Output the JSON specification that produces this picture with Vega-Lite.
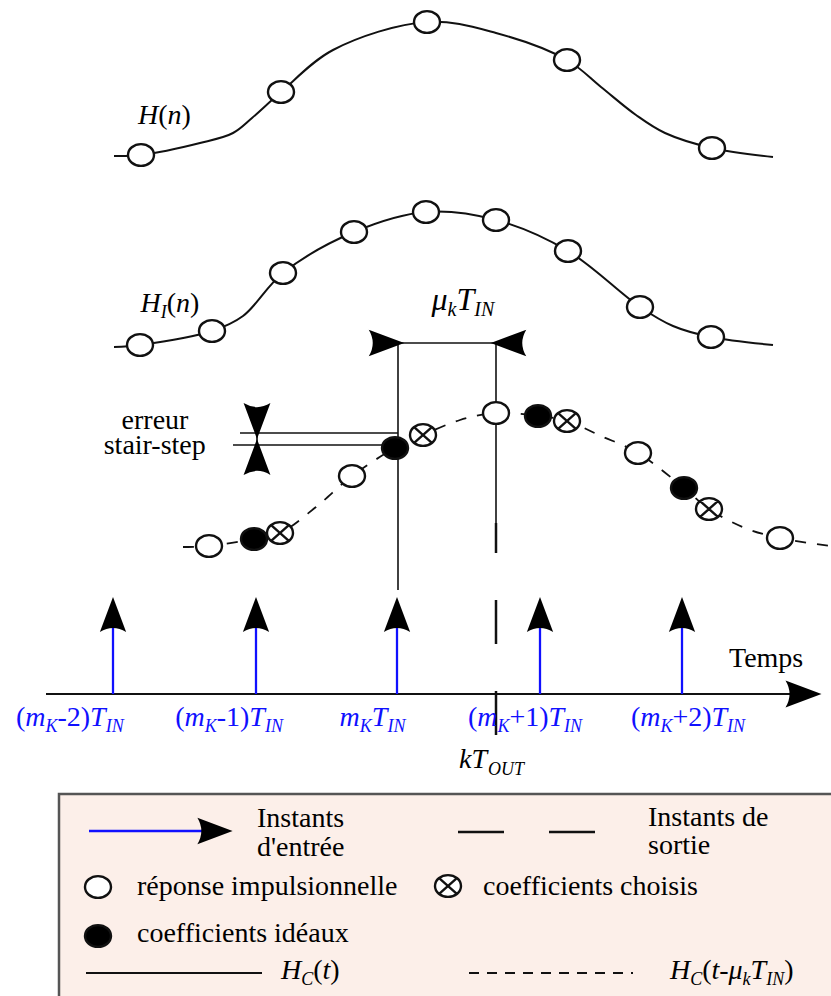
{
  "$schema": "https://vega.github.io/schema/vega-lite/v6.json",
  "width": 831,
  "height": 996,
  "autosize": "none",
  "padding": 0,
  "background": "white",
  "config": {"view": {"stroke": null}, "font": "Liberation Serif"},
  "resolve": {"scale": {"color": "independent", "strokeWidth": "independent", "size": "independent"}},
  "datasets": {
    "box": [{"x": 59, "y": 794, "x2": 860, "y2": 1010}],
    "curves": [
      {"c": "H", "x": 114, "y": 156}, {"c": "H", "x": 141, "y": 155}, {"c": "H", "x": 200, "y": 143}, {"c": "H", "x": 233, "y": 133}, {"c": "H", "x": 252, "y": 118}, {"c": "H", "x": 281, "y": 92}, {"c": "H", "x": 333, "y": 50}, {"c": "H", "x": 427, "y": 22}, {"c": "H", "x": 496, "y": 33}, {"c": "H", "x": 567, "y": 60}, {"c": "H", "x": 601, "y": 87}, {"c": "H", "x": 636, "y": 115}, {"c": "H", "x": 665, "y": 133}, {"c": "H", "x": 712, "y": 148}, {"c": "H", "x": 773, "y": 157},
      {"c": "HI", "x": 114, "y": 347}, {"c": "HI", "x": 140, "y": 345}, {"c": "HI", "x": 212, "y": 331}, {"c": "HI", "x": 243, "y": 316}, {"c": "HI", "x": 283, "y": 273}, {"c": "HI", "x": 354, "y": 232}, {"c": "HI", "x": 426, "y": 212}, {"c": "HI", "x": 496, "y": 220}, {"c": "HI", "x": 568, "y": 251}, {"c": "HI", "x": 640, "y": 307}, {"c": "HI", "x": 673, "y": 326}, {"c": "HI", "x": 711, "y": 337}, {"c": "HI", "x": 773, "y": 345},
      {"c": "HC", "x": 183, "y": 547}, {"c": "HC", "x": 209, "y": 546}, {"c": "HC", "x": 254, "y": 539}, {"c": "HC", "x": 280, "y": 533}, {"c": "HC", "x": 316, "y": 507}, {"c": "HC", "x": 352, "y": 476}, {"c": "HC", "x": 395, "y": 448}, {"c": "HC", "x": 423, "y": 435}, {"c": "HC", "x": 460, "y": 420}, {"c": "HC", "x": 496, "y": 413}, {"c": "HC", "x": 538, "y": 416}, {"c": "HC", "x": 567, "y": 421}, {"c": "HC", "x": 601, "y": 436}, {"c": "HC", "x": 638, "y": 453}, {"c": "HC", "x": 684, "y": 488}, {"c": "HC", "x": 709, "y": 509}, {"c": "HC", "x": 745, "y": 528}, {"c": "HC", "x": 780, "y": 538}, {"c": "HC", "x": 845, "y": 548}
    ],
    "segs": [
      {"kind": "thin", "x": 398, "y": 343, "x2": 398, "y2": 590},
      {"kind": "thin", "x": 496, "y": 343, "x2": 496, "y2": 523},
      {"kind": "thin", "x": 398, "y": 343, "x2": 496, "y2": 343},
      {"kind": "thin", "x": 240, "y": 433, "x2": 398, "y2": 433},
      {"kind": "thin", "x": 233, "y": 445, "x2": 382, "y2": 445},
      {"kind": "thin", "x": 257, "y": 433, "x2": 257, "y2": 445},
      {"kind": "solid", "x": 86, "y": 973, "x2": 262, "y2": 973},
      {"kind": "axis", "x": 46, "y": 694, "x2": 800, "y2": 694},
      {"kind": "blue", "x": 113, "y": 626, "x2": 113, "y2": 694},
      {"kind": "blue", "x": 256, "y": 626, "x2": 256, "y2": 694},
      {"kind": "blue", "x": 397, "y": 626, "x2": 397, "y2": 694},
      {"kind": "blue", "x": 540, "y": 626, "x2": 540, "y2": 694},
      {"kind": "blue", "x": 682, "y": 626, "x2": 682, "y2": 694},
      {"kind": "blue", "x": 89, "y": 831, "x2": 205, "y2": 831},
      {"kind": "thick", "x": 496, "y": 523, "x2": 496, "y2": 553},
      {"kind": "thick", "x": 496, "y": 600, "x2": 496, "y2": 644},
      {"kind": "thick", "x": 496, "y": 691, "x2": 496, "y2": 735},
      {"kind": "thick", "x": 458, "y": 832, "x2": 504, "y2": 832},
      {"kind": "thick", "x": 549, "y": 832, "x2": 595, "y2": 832},
      {"kind": "dash", "x": 469, "y": 973, "x2": 633, "y2": 973}
    ],
    "marks": [
      {"kind": "open", "x": 141, "y": 155}, {"kind": "open", "x": 281, "y": 92}, {"kind": "open", "x": 427, "y": 22}, {"kind": "open", "x": 567, "y": 60}, {"kind": "open", "x": 712, "y": 148},
      {"kind": "open", "x": 140, "y": 345}, {"kind": "open", "x": 212, "y": 331}, {"kind": "open", "x": 283, "y": 273}, {"kind": "open", "x": 354, "y": 232}, {"kind": "open", "x": 426, "y": 212}, {"kind": "open", "x": 496, "y": 220}, {"kind": "open", "x": 568, "y": 251}, {"kind": "open", "x": 640, "y": 307}, {"kind": "open", "x": 711, "y": 337},
      {"kind": "open", "x": 209, "y": 546}, {"kind": "open", "x": 352, "y": 476}, {"kind": "open", "x": 496, "y": 413}, {"kind": "open", "x": 638, "y": 453}, {"kind": "open", "x": 780, "y": 538},
      {"kind": "open", "x": 98, "y": 887},
      {"kind": "filled", "x": 254, "y": 539}, {"kind": "filled", "x": 395, "y": 448}, {"kind": "filled", "x": 538, "y": 416}, {"kind": "filled", "x": 684, "y": 488}, {"kind": "filled", "x": 98, "y": 936},
      {"kind": "cross", "x": 280, "y": 533}, {"kind": "cross", "x": 423, "y": 435}, {"kind": "cross", "x": 567, "y": 421}, {"kind": "cross", "x": 709, "y": 509}, {"kind": "cross", "x": 448, "y": 886}
    ],
    "heads": [
      {"kind": "input", "dir": "up", "x": 113, "y": 614.5},
      {"kind": "input", "dir": "up", "x": 256, "y": 614.5},
      {"kind": "input", "dir": "up", "x": 397, "y": 614.5},
      {"kind": "input", "dir": "up", "x": 540, "y": 614.5},
      {"kind": "input", "dir": "up", "x": 682, "y": 614.5},
      {"kind": "legend", "dir": "right", "x": 215, "y": 831},
      {"kind": "dim", "dir": "right", "x": 386.5, "y": 343},
      {"kind": "dim", "dir": "left", "x": 508.5, "y": 343},
      {"kind": "err", "dir": "down", "x": 257, "y": 421},
      {"kind": "err", "dir": "up", "x": 257, "y": 457},
      {"kind": "axis", "dir": "right", "x": 803.5, "y": 694}
    ],
    "labels": [
      {"t": "(", "x": 16, "y": 726, "f": "rm", "ink": "b"},
      {"t": "m", "x": 25.3, "y": 726, "f": "it", "ink": "b"},
      {"t": "K", "x": 45.5, "y": 732, "f": "sub", "ink": "b"},
      {"t": "-2)", "x": 57.5, "y": 726, "f": "rm", "ink": "b"},
      {"t": "T", "x": 90.1, "y": 726, "f": "it", "ink": "b"},
      {"t": "IN", "x": 105.7, "y": 732, "f": "sub", "ink": "b"},
      {"t": "(", "x": 175.2, "y": 726, "f": "rm", "ink": "b"},
      {"t": "m", "x": 184.5, "y": 726, "f": "it", "ink": "b"},
      {"t": "K", "x": 204.7, "y": 732, "f": "sub", "ink": "b"},
      {"t": "-1)", "x": 216.7, "y": 726, "f": "rm", "ink": "b"},
      {"t": "T", "x": 249.3, "y": 726, "f": "it", "ink": "b"},
      {"t": "IN", "x": 264.9, "y": 732, "f": "sub", "ink": "b"},
      {"t": "m", "x": 339.6, "y": 726, "f": "it", "ink": "b"},
      {"t": "K", "x": 359.8, "y": 732, "f": "sub", "ink": "b"},
      {"t": "T", "x": 371.8, "y": 726, "f": "it", "ink": "b"},
      {"t": "IN", "x": 387.4, "y": 732, "f": "sub", "ink": "b"},
      {"t": "(", "x": 467.9, "y": 726, "f": "rm", "ink": "b"},
      {"t": "m", "x": 477.2, "y": 726, "f": "it", "ink": "b"},
      {"t": "K", "x": 497.4, "y": 732, "f": "sub", "ink": "b"},
      {"t": "+1)", "x": 509.4, "y": 726, "f": "rm", "ink": "b"},
      {"t": "T", "x": 548.5, "y": 726, "f": "it", "ink": "b"},
      {"t": "IN", "x": 564.1, "y": 732, "f": "sub", "ink": "b"},
      {"t": "(", "x": 630.9, "y": 726, "f": "rm", "ink": "b"},
      {"t": "m", "x": 640.2, "y": 726, "f": "it", "ink": "b"},
      {"t": "K", "x": 660.4, "y": 732, "f": "sub", "ink": "b"},
      {"t": "+2)", "x": 672.4, "y": 726, "f": "rm", "ink": "b"},
      {"t": "T", "x": 711.5, "y": 726, "f": "it", "ink": "b"},
      {"t": "IN", "x": 727.1, "y": 732, "f": "sub", "ink": "b"},
      {"t": "Temps", "x": 729, "y": 667, "f": "rm", "ink": "k"},
      {"t": "k", "x": 459, "y": 768, "f": "it", "ink": "k"},
      {"t": "T", "x": 471.4, "y": 768, "f": "it", "ink": "k"},
      {"t": "OUT", "x": 488, "y": 775, "f": "sub", "ink": "k"},
      {"t": "H", "x": 138, "y": 124, "f": "it", "ink": "k"},
      {"t": "(", "x": 158.2, "y": 124, "f": "rm", "ink": "k"},
      {"t": "n", "x": 167.5, "y": 124, "f": "it", "ink": "k"},
      {"t": ")", "x": 181.5, "y": 124, "f": "rm", "ink": "k"},
      {"t": "H", "x": 140.6, "y": 312, "f": "it", "ink": "k"},
      {"t": "I", "x": 160.8, "y": 318, "f": "sub", "ink": "k"},
      {"t": "(", "x": 166.8, "y": 312, "f": "rm", "ink": "k"},
      {"t": "n", "x": 176.1, "y": 312, "f": "it", "ink": "k"},
      {"t": ")", "x": 190.1, "y": 312, "f": "rm", "ink": "k"},
      {"t": "μ", "x": 431.6, "y": 310, "f": "big", "ink": "k"},
      {"t": "k", "x": 447.6, "y": 316, "f": "bigsub", "ink": "k"},
      {"t": "T", "x": 456.5, "y": 310, "f": "big", "ink": "k"},
      {"t": "IN", "x": 474.3, "y": 316, "f": "bigsub", "ink": "k"},
      {"t": "erreur", "x": 121.6, "y": 429, "f": "rm", "ink": "k"},
      {"t": "stair-step", "x": 103.7, "y": 454, "f": "rm", "ink": "k"},
      {"t": "Instants", "x": 257, "y": 827, "f": "rm", "ink": "k"},
      {"t": "d'entrée", "x": 257, "y": 856, "f": "rm", "ink": "k"},
      {"t": "Instants de", "x": 648, "y": 826, "f": "rm", "ink": "k"},
      {"t": "sortie", "x": 648, "y": 854, "f": "rm", "ink": "k"},
      {"t": "réponse impulsionnelle", "x": 137, "y": 895, "f": "rm", "ink": "k"},
      {"t": "coefficients choisis", "x": 483, "y": 895, "f": "rm", "ink": "k"},
      {"t": "coefficients idéaux", "x": 137, "y": 942, "f": "rm", "ink": "k"},
      {"t": "H", "x": 281, "y": 979, "f": "it", "ink": "k"},
      {"t": "C", "x": 301.2, "y": 985, "f": "sub", "ink": "k"},
      {"t": "(", "x": 313.2, "y": 979, "f": "rm", "ink": "k"},
      {"t": "t", "x": 322.5, "y": 979, "f": "it", "ink": "k"},
      {"t": ")", "x": 330.3, "y": 979, "f": "rm", "ink": "k"},
      {"t": "H", "x": 670, "y": 979, "f": "it", "ink": "k"},
      {"t": "C", "x": 690.2, "y": 985, "f": "sub", "ink": "k"},
      {"t": "(", "x": 702.2, "y": 979, "f": "rm", "ink": "k"},
      {"t": "t", "x": 711.5, "y": 979, "f": "it", "ink": "k"},
      {"t": "-", "x": 719.3, "y": 979, "f": "rm", "ink": "k"},
      {"t": "μ", "x": 728.6, "y": 979, "f": "it", "ink": "k"},
      {"t": "k", "x": 742.6, "y": 985, "f": "sub", "ink": "k"},
      {"t": "T", "x": 750.6, "y": 979, "f": "it", "ink": "k"},
      {"t": "IN", "x": 766.2, "y": 985, "f": "sub", "ink": "k"},
      {"t": ")", "x": 784.2, "y": 979, "f": "rm", "ink": "k"}
    ]
  },
  "encoding": {
    "x": {"field": "x", "type": "quantitative", "scale": {"domain": [0, 831], "nice": false, "zero": false}, "axis": null},
    "y": {"field": "y", "type": "quantitative", "scale": {"domain": [0, 996], "nice": false, "zero": false, "reverse": true}, "axis": null}
  },
  "layer": [
    {
      "data": {"name": "box"},
      "mark": {"type": "rect", "fill": "#fcefe9", "stroke": "#555555", "strokeWidth": 2.5, "clip": true},
      "encoding": {"x2": {"field": "x2"}, "y2": {"field": "y2"}}
    },
    {
      "data": {"name": "curves"},
      "transform": [{"filter": "datum.c !== 'HC'"}],
      "mark": {"type": "line", "interpolate": "catmull-rom", "color": "#111111", "strokeWidth": 2},
      "encoding": {"detail": {"field": "c"}}
    },
    {
      "data": {"name": "curves"},
      "transform": [{"filter": "datum.c === 'HC'"}],
      "mark": {"type": "line", "interpolate": "catmull-rom", "color": "#111111", "strokeWidth": 1.8, "strokeDash": [11, 11], "clip": true},
      "encoding": {"detail": {"field": "c"}}
    },
    {
      "data": {"name": "segs"},
      "transform": [{"filter": "datum.kind !== 'dash'"}],
      "mark": {"type": "rule"},
      "encoding": {
        "x2": {"field": "x2"},
        "y2": {"field": "y2"},
        "color": {"field": "kind", "type": "nominal", "scale": {"domain": ["thin", "solid", "axis", "blue", "thick"], "range": ["#111111", "#111111", "#111111", "#1010ff", "#111111"]}, "legend": null},
        "strokeWidth": {"field": "kind", "type": "ordinal", "scale": {"domain": ["thin", "solid", "axis", "blue", "thick"], "range": [1.6, 2.5, 3.5, 3, 6]}, "legend": null}
      }
    },
    {
      "data": {"name": "segs"},
      "transform": [{"filter": "datum.kind === 'dash'"}],
      "mark": {"type": "rule", "color": "#111111", "strokeWidth": 2, "strokeDash": [10, 8]},
      "encoding": {"x2": {"field": "x2"}, "y2": {"field": "y2"}}
    },
    {
      "data": {"name": "marks"},
      "transform": [{"filter": "datum.kind === 'open'"}],
      "mark": {"type": "point", "shape": "M-1,0A1,0.84,0,1,1,1,0A1,0.84,0,1,1,-1,0Z", "filled": true, "fill": "white", "stroke": "#111111", "strokeWidth": 2.4, "size": 676, "opacity": 1}
    },
    {
      "data": {"name": "marks"},
      "transform": [{"filter": "datum.kind === 'filled'"}],
      "mark": {"type": "point", "shape": "M-1,0A1,0.84,0,1,1,1,0A1,0.84,0,1,1,-1,0Z", "filled": true, "fill": "black", "stroke": "#111111", "strokeWidth": 2.4, "size": 676, "opacity": 1}
    },
    {
      "data": {"name": "marks"},
      "transform": [{"filter": "datum.kind === 'cross'"}],
      "mark": {"type": "point", "shape": "M-1,0A1,0.84,0,1,1,1,0A1,0.84,0,1,1,-1,0ZM-0.66,-0.58L0.66,0.58M-0.66,0.58L0.66,-0.58", "filled": true, "fill": "white", "stroke": "#111111", "strokeWidth": 2.4, "size": 676, "opacity": 1}
    },
    {
      "data": {"name": "heads"},
      "transform": [{"filter": "datum.dir === 'up'"}],
      "mark": {"type": "point", "shape": "M0,-1L0.75,1Q0,0.55,-0.75,1Z", "filled": true, "fill": "black", "strokeWidth": 0, "opacity": 1, "angle": 0},
      "encoding": {"size": {"field": "kind", "type": "ordinal", "scale": {"domain": ["input", "legend", "dim", "err", "axis"], "range": [1225, 1296, 529, 600, 625]}, "legend": null}}
    },
    {
      "data": {"name": "heads"},
      "transform": [{"filter": "datum.dir === 'right'"}],
      "mark": {"type": "point", "shape": "M0,-1L0.75,1Q0,0.55,-0.75,1Z", "filled": true, "fill": "black", "strokeWidth": 0, "opacity": 1, "angle": 90},
      "encoding": {"size": {"field": "kind", "type": "ordinal", "scale": {"domain": ["input", "legend", "dim", "err", "axis"], "range": [1225, 1296, 529, 600, 625]}, "legend": null}}
    },
    {
      "data": {"name": "heads"},
      "transform": [{"filter": "datum.dir === 'down'"}],
      "mark": {"type": "point", "shape": "M0,-1L0.75,1Q0,0.55,-0.75,1Z", "filled": true, "fill": "black", "strokeWidth": 0, "opacity": 1, "angle": 180},
      "encoding": {"size": {"field": "kind", "type": "ordinal", "scale": {"domain": ["input", "legend", "dim", "err", "axis"], "range": [1225, 1296, 529, 600, 625]}, "legend": null}}
    },
    {
      "data": {"name": "heads"},
      "transform": [{"filter": "datum.dir === 'left'"}],
      "mark": {"type": "point", "shape": "M0,-1L0.75,1Q0,0.55,-0.75,1Z", "filled": true, "fill": "black", "strokeWidth": 0, "opacity": 1, "angle": 270},
      "encoding": {"size": {"field": "kind", "type": "ordinal", "scale": {"domain": ["input", "legend", "dim", "err", "axis"], "range": [1225, 1296, 529, 600, 625]}, "legend": null}}
    },
    {
      "data": {"name": "labels"},
      "transform": [{"filter": "datum.f === 'rm'"}],
      "mark": {"type": "text", "align": "left", "baseline": "alphabetic", "font": "Liberation Serif", "fontSize": 28, "fontStyle": "normal"},
      "encoding": {"text": {"field": "t"}, "color": {"field": "ink", "type": "nominal", "scale": {"domain": ["k", "b"], "range": ["#000000", "#1010ff"]}, "legend": null}}
    },
    {
      "data": {"name": "labels"},
      "transform": [{"filter": "datum.f === 'it'"}],
      "mark": {"type": "text", "align": "left", "baseline": "alphabetic", "font": "Liberation Serif", "fontSize": 28, "fontStyle": "italic"},
      "encoding": {"text": {"field": "t"}, "color": {"field": "ink", "type": "nominal", "scale": {"domain": ["k", "b"], "range": ["#000000", "#1010ff"]}, "legend": null}}
    },
    {
      "data": {"name": "labels"},
      "transform": [{"filter": "datum.f === 'sub'"}],
      "mark": {"type": "text", "align": "left", "baseline": "alphabetic", "font": "Liberation Serif", "fontSize": 18, "fontStyle": "italic"},
      "encoding": {"text": {"field": "t"}, "color": {"field": "ink", "type": "nominal", "scale": {"domain": ["k", "b"], "range": ["#000000", "#1010ff"]}, "legend": null}}
    },
    {
      "data": {"name": "labels"},
      "transform": [{"filter": "datum.f === 'big'"}],
      "mark": {"type": "text", "align": "left", "baseline": "alphabetic", "font": "Liberation Serif", "fontSize": 32, "fontStyle": "italic"},
      "encoding": {"text": {"field": "t"}, "color": {"field": "ink", "type": "nominal", "scale": {"domain": ["k", "b"], "range": ["#000000", "#1010ff"]}, "legend": null}}
    },
    {
      "data": {"name": "labels"},
      "transform": [{"filter": "datum.f === 'bigsub'"}],
      "mark": {"type": "text", "align": "left", "baseline": "alphabetic", "font": "Liberation Serif", "fontSize": 20, "fontStyle": "italic"},
      "encoding": {"text": {"field": "t"}, "color": {"field": "ink", "type": "nominal", "scale": {"domain": ["k", "b"], "range": ["#000000", "#1010ff"]}, "legend": null}}
    }
  ]
}
